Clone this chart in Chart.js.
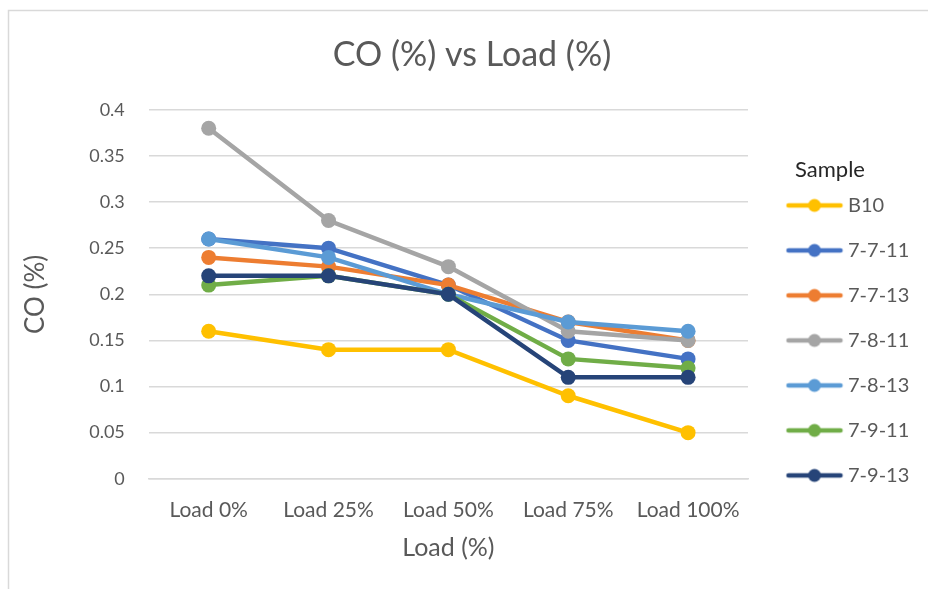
<!DOCTYPE html>
<html>
<head>
<meta charset="utf-8">
<script src="https://cdn.jsdelivr.net/npm/chart.js@4/dist/chart.umd.min.js"></script>
<style>
  html, body { margin: 0; padding: 0; background: #fff; overflow: hidden; }
  #wrap { position: relative; width: 928px; height: 589px; }
</style>
</head>
<body>
<div id="wrap"><canvas id="c"></canvas></div>
<script>
// Engine load steps and measured CO readings per sample blend
const categories = ['Load 0%', 'Load 25%', 'Load 50%', 'Load 75%', 'Load 100%'];
const seriesNames = ['B10', '7-7-11', '7-7-13', '7-8-11', '7-8-13', '7-9-11', '7-9-13'];
const b10    = [0.16, 0.14, 0.14, 0.09, 0.05];
const s7711  = [0.26, 0.25, 0.21, 0.15, 0.13];
const s7713  = [0.24, 0.23, 0.21, 0.17, 0.15];
const s7811  = [0.38, 0.28, 0.23, 0.16, 0.15];
const s7813  = [0.26, 0.24, 0.20, 0.17, 0.16];
const s7911  = [0.21, 0.22, 0.20, 0.13, 0.12];
const s7913  = [0.22, 0.22, 0.20, 0.11, 0.11];
const yTicks = [0, 0.05, 0.1, 0.15, 0.2, 0.25, 0.3, 0.35, 0.4];

const values = [b10, s7711, s7713, s7811, s7813, s7911, s7913];
const colors = ['#FFC000', '#4472C4', '#ED7D31', '#A5A5A5', '#5B9BD5', '#70AD47', '#264478'];

const FONT = 'Lato, "Open Sans", sans-serif';
const TEXT = '#595959';

// Legend marker: a short line with a dot in the middle; the image is wider
// on the left so the drawn line sits flush against its label text
function legendMarker(color) {
  const cv = document.createElement('canvas');
  cv.width = 76; cv.height = 16;
  const g = cv.getContext('2d');
  g.strokeStyle = color; g.lineWidth = 4.5; g.lineCap = 'round';
  g.beginPath(); g.moveTo(21, 8); g.lineTo(73, 8); g.stroke();
  g.fillStyle = color;
  g.beginPath(); g.arc(47, 8, 6.5, 0, Math.PI * 2); g.fill();
  return cv;
}

const datasets = seriesNames.map((name, i) => ({
  label: name,
  data: values[i],
  borderColor: colors[i],
  backgroundColor: colors[i],
  borderWidth: 4.5,
  pointRadius: 7.5,
  pointHoverRadius: 7.5,
  pointBorderWidth: 0,
  pointStyle: 'circle',
  tension: 0,
  order: seriesNames.length - i
}));

// Outer chart frame
const framePlugin = {
  id: 'frame',
  beforeDraw(chart) {
    const ctx = chart.ctx;
    ctx.save();
    ctx.strokeStyle = '#d9d9d9';
    ctx.lineWidth = 1.5;
    ctx.strokeRect(8.5, 10.5, 1200, 1200);
    ctx.restore();
  }
};

new Chart(document.getElementById('c'), {
  type: 'line',
  data: { labels: categories, datasets },
  plugins: [framePlugin],
  options: {
    responsive: true,
    maintainAspectRatio: false,
    animation: false,
    layout: { padding: { left: 32, right: 16, top: 10, bottom: 26 } },
    plugins: {
      title: {
        display: true,
        text: 'CO (%) vs Load (%)',
        color: TEXT,
        font: { family: FONT, size: 34, weight: 'normal' },
        padding: { top: 25, bottom: 34 }
      },
      legend: {
        position: 'right',
        align: 'start',
        maxWidth: 164,
        title: {
          display: true,
          text: 'Sample',
          position: 'center',
          color: '#262626',
          font: { family: FONT, size: 22 },
          padding: { top: 149, bottom: -15 }
        },
        labels: {
          color: TEXT,
          font: { family: FONT, size: 20 },
          usePointStyle: true,
          pointStyleWidth: 65,
          padding: 25,
          generateLabels(chart) {
            return chart.data.datasets.map((ds, i) => ({
              text: ds.label,
              fillStyle: ds.borderColor,
              strokeStyle: ds.borderColor,
              lineWidth: 0,
              pointStyle: legendMarker(ds.borderColor),
              fontColor: TEXT,
              hidden: false,
              datasetIndex: i
            }));
          }
        }
      },
      tooltip: { enabled: false }
    },
    scales: {
      x: {
        offset: true,
        grid: { display: false, drawTicks: false },
        border: { display: true, color: '#d9d9d9', width: 1.5 },
        ticks: { color: TEXT, font: { family: FONT, size: 21 }, padding: 19 },
        title: {
          display: true, text: 'Load (%)', color: TEXT,
          font: { family: FONT, size: 25 }, padding: { top: -9, bottom: 0 }
        }
      },
      y: {
        min: 0, max: 0.4,
        afterBuildTicks(axis) { axis.ticks = yTicks.map(v => ({ value: v })); },
        grid: { color: '#d9d9d9', lineWidth: 1.5, drawTicks: false },
        border: { display: false },
        ticks: {
          color: TEXT, font: { family: FONT, size: 18 }, padding: 24,
          callback: v => String(v)
        },
        title: {
          display: true, text: 'CO (%)', color: TEXT,
          font: { family: FONT, size: 26 }, padding: { top: -12, bottom: 14 }
        }
      }
    }
  }
});
</script>
</body>
</html>
